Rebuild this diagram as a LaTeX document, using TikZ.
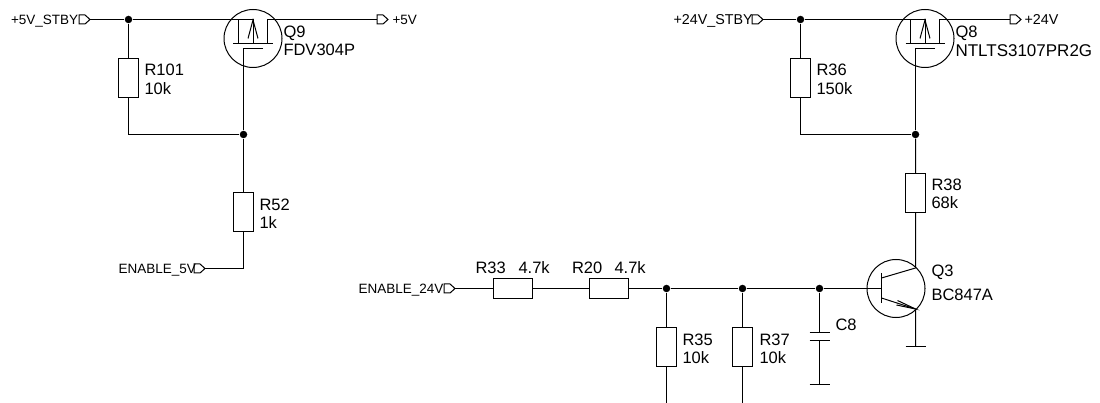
\documentclass[tikz,border=0pt]{standalone}
\usepackage{fontspec}
\setmainfont{Liberation Sans}
\newcommand{\flagR}[1]{\draw (#1) -- ++(-5,4.5) -- ++(-6,0) -- ++(0,-9) -- ++(6,0) -- cycle;}
\begin{document}
\begin{tikzpicture}[x=1pt,y=-1pt,line width=1pt,
    res/.style={draw,rectangle,inner sep=0pt,minimum width=20pt,minimum height=39pt},
    resh/.style={draw,rectangle,inner sep=0pt,minimum width=39pt,minimum height=20pt},
    dotj/.style={circle,fill=black,inner sep=0pt,minimum size=7.5pt},
    tran/.style={draw,circle,inner sep=0pt,minimum size=58pt},
    lbl/.style={anchor=base west,inner sep=0pt,font=\fontsize{16.5}{18}\selectfont},
    sig/.style={anchor=base west,inner sep=0pt,font=\fontsize{13.5}{15}\selectfont}]
    \useasboundingbox (0,0) rectangle (1100,403);
    % 5V switch
    \coordinate (fa) at (90,19.5);
    \coordinate (fb) at (388,19.5);
    \coordinate (fc) at (205,268.5);
    \node[dotj] (j1) at (128.5,19.5) {};
    \node[dotj] (j2) at (243.5,134.5) {};
    \node[tran] (q9) at (253,38.5) {};
    \coordinate (q9s) at (238.5,19.5);
    \coordinate (q9d) at (267.5,19.5);
    \coordinate (q9g) at (243.5,48.5);
    \node[res] (r101) at (128.5,78) {};
    \node[res] (r52) at (243.5,212) {};
    \flagR{fa} \flagR{fb} \flagR{fc}
    \draw (fa) -- (j1) -- (q9s) -- ++(0,24);
    \draw (fb) ++(-11,0) -- (q9d) -- ++(0,24);
    \draw (233,43.5) -- (273,43.5);
    \draw (q9s) -- ++(14.5,0) -- ++(0,24);
    \draw (248,38.5) -- (253,20) -- (258,38.5);
    \draw (263,48.5) -- (q9g) -- (j2);
    \draw (j1) -- (r101.north) (r101.south) |- (j2);
    \draw (j2) -- (r52.north) (r52.south) |- (fc);
    \node[sig] (t1) at (10.5,24.5) {+5V\_STBY};
    \node[sig] (t2) at (392,24.5) {+5V};
    \node[sig] (t3) at (118,274) {ENABLE\_5V};
    \node[lbl] (t4) at (283,37.5) {Q9};
    \node[lbl] (t5) at (283,56) {FDV304P};
    \node[lbl] (t6) at (144,76) {R101};
    \node[lbl] (t7) at (144,95) {10k};
    \node[lbl] (t8) at (259,211) {R52};
    \node[lbl] (t9) at (259,229) {1k};
    % 24V switch
    \coordinate (fd) at (763,19.5);
    \coordinate (fe) at (1021,19.5);
    \coordinate (ff) at (455,288.5);
    \node[dotj] (j3) at (800.5,19.5) {};
    \node[dotj] (j4) at (915.5,134.5) {};
    \node[dotj] (j5) at (666.5,288.5) {};
    \node[dotj] (j6) at (742.5,288.5) {};
    \node[dotj] (j7) at (819.5,288.5) {};
    \node[tran] (q8) at (925,38.5) {};
    \coordinate (q8s) at (910.5,19.5);
    \coordinate (q8d) at (939.5,19.5);
    \coordinate (q8g) at (915.5,48.5);
    \node[tran] (q3) at (896,288.5) {};
    \coordinate (q3b) at (881.5,288.5);
    \coordinate (q3c) at (915.5,268);
    \coordinate (q3e) at (915.5,309);
    \coordinate (gnda) at (915.5,346.5);
    \coordinate (gndb) at (819.5,384.5);
    \coordinate (r35e) at (666.5,403);
    \coordinate (r37e) at (742.5,403);
    \node[res] (r36) at (800.5,78) {};
    \node[res] (r38) at (915.5,193) {};
    \node[resh] (r33) at (513,288.5) {};
    \node[resh] (r20) at (609,288.5) {};
    \node[res] (r35) at (666.5,347) {};
    \node[res] (r37) at (742.5,347) {};
    \flagR{fd} \flagR{fe} \flagR{ff}
    \draw (fd) -- (j3) -- (q8s) -- ++(0,24);
    \draw (fe) ++(-11,0) -- (q8d) -- ++(0,24);
    \draw (905.5,43.5) -- (945,43.5);
    \draw (q8s) -- ++(14.5,0) -- ++(0,24);
    \draw (920,38.5) -- (925,20) -- (930,38.5);
    \draw (935,48.5) -- (q8g) -- (j4);
    \draw (j3) -- (r36.north) (r36.south) |- (j4);
    \draw (j4) -- (r38.north) (r38.south) -- (q3c) -- (881.5,278);
    \draw (881.5,273) -- (881.5,303);
    \draw (881.5,298) -- (q3e) -- (gnda);
    \draw (897.5,300.5) -- (q3e) -- (896.5,305);
    \draw (905.5,346.5) -- (925.5,346.5);
    \draw (ff) -- (r33.west) (r33.east) -- (r20.west) (r20.east) -- (j5) -- (j6) -- (j7) -- (q3b);
    \draw (j5) -- (r35.north) (r35.south) -- (r35e);
    \draw (j6) -- (r37.north) (r37.south) -- (r37e);
    \draw (j7) -- (819.5,332) (809.5,332) -- (829.5,332) (809.5,340.5) -- (829.5,340.5) (819.5,340.5) -- (gndb);
    \draw (809.5,384.5) -- (829.5,384.5);
    \node[sig,font=\fontsize{14.3}{15}\selectfont] (t10) at (673,24.5) {+24V\_STBY};
    \node[sig,font=\fontsize{14.3}{15}\selectfont] (t11) at (1024,24.5) {+24V};
    \node[sig] (t12) at (358,293.5) {ENABLE\_24V};
    \node[lbl] (t13) at (955,37.5) {Q8};
    \node[lbl,font=\fontsize{17}{18}\selectfont] (t14) at (955,56.5) {NTLTS3107PR2G};
    \node[lbl] (t15) at (816,76) {R36};
    \node[lbl] (t16) at (816,95) {150k};
    \node[lbl] (t17) at (931,191) {R38};
    \node[lbl] (t18) at (931,209) {68k};
    \node[lbl] (t19) at (931,276.5) {Q3};
    \node[lbl] (t20) at (931,300.5) {BC847A};
    \node[lbl] (t21) at (475,273) {R33};
    \node[lbl] (t22) at (518,273) {4.7k};
    \node[lbl] (t23) at (571.5,273) {R20};
    \node[lbl] (t24) at (614,273) {4.7k};
    \node[lbl] (t25) at (682,345) {R35};
    \node[lbl] (t26) at (682,363) {10k};
    \node[lbl] (t27) at (759,345) {R37};
    \node[lbl] (t28) at (759,363) {10k};
    \node[lbl] (t29) at (835,330) {C8};
\end{tikzpicture}
\end{document}
